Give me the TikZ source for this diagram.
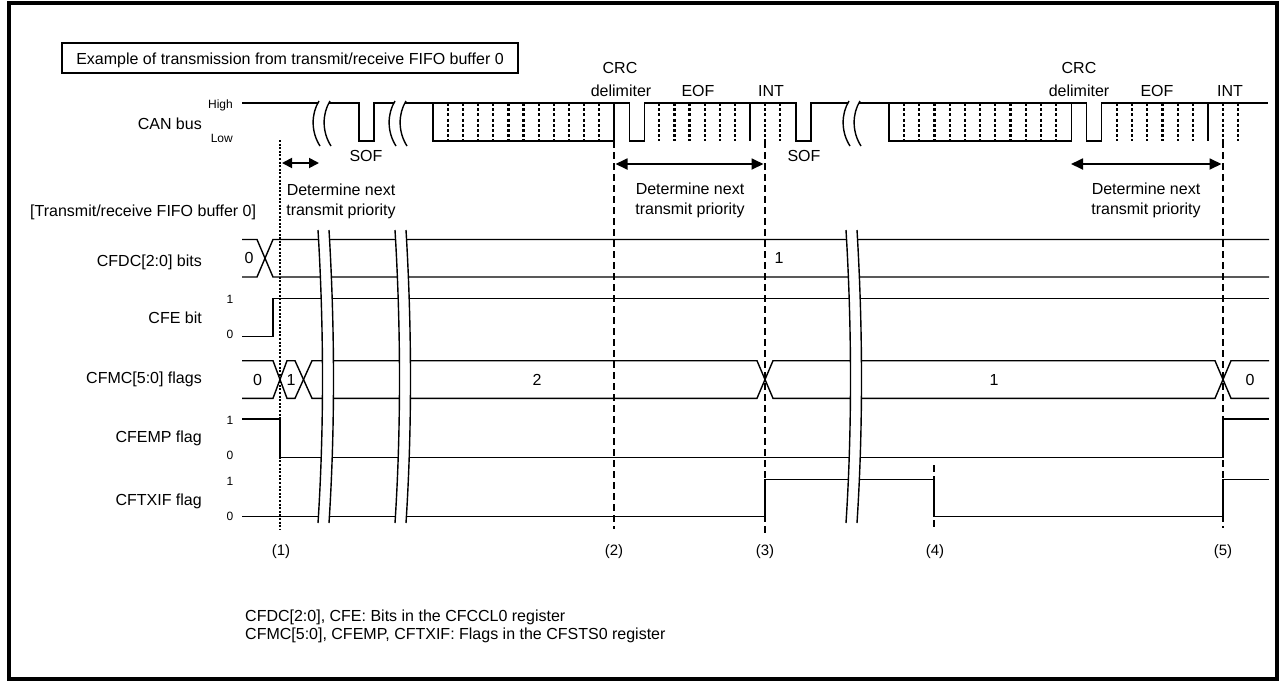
\documentclass[tikz,border=0pt]{standalone}
\usepackage{fontspec}
\setmainfont{Liberation Sans}
\usetikzlibrary{arrows.meta}
\newcommand\busbrk[1]{%
  \fill[white] ({#1+2},101) .. controls ({#1-6},114) and ({#1-6},132) .. ({#1+3},146) -- ({#1+14},146) .. controls ({#1+5},132) and ({#1+5},114) .. ({#1+13},101) -- cycle;
  \draw[brk] ({#1+2},101) .. controls ({#1-6},114) and ({#1-6},132) .. ({#1+3},146);
  \draw[brk] ({#1+13},101) .. controls ({#1+5},114) and ({#1+5},132) .. ({#1+14},146);
}
\newcommand\sigbrk[1]{%
  \fill[white] (#1,230) .. controls ({#1+6},330) and ({#1+6},430) .. (#1,523) -- ({#1+11},523) .. controls ({#1+17},430) and ({#1+17},330) .. ({#1+11},230) -- cycle;
  \draw[brk] (#1,230) .. controls ({#1+6},330) and ({#1+6},430) .. (#1,523);
  \draw[brk] ({#1+11},230) .. controls ({#1+17},330) and ({#1+17},430) .. ({#1+11},523);
}
\begin{document}
\begin{tikzpicture}[x=1pt,y=-1pt,
  sig/.style={line width=1.4pt, line join=miter},
  bitdot/.style={line width=2.2pt, dash pattern=on 3pt off 2.2pt},
  tline/.style={line width=2.6pt, dash pattern=on 7pt off 4pt},
  dotline/.style={line width=2.2pt, dash pattern=on 2pt off 1.6pt},
  brk/.style={line width=1.4pt},
  txtbig/.style={font=\fontsize{16}{19}\selectfont, inner sep=0pt, anchor=base},
  txtsmall/.style={font=\fontsize{12}{14}\selectfont, inner sep=0pt, anchor=base},
  txtmark/.style={font=\fontsize{15}{18}\selectfont, inner sep=0pt, anchor=base},
  dimarrow/.style={line width=1.8pt, {Triangle[length=12pt,width=11pt]}-{Triangle[length=12pt,width=11pt]}},
]
\useasboundingbox (0,0) rectangle (1280,681);
\fill[white] (0,0) rectangle (1280,681);
% outer frame
\draw[line width=3.5pt] (9,3) rectangle (1277,679);

% title box
\draw[line width=1.4pt] (62,43) rectangle (518,73);
\node[txtbig] (title) at (290,64) {Example of transmission from transmit/receive FIFO buffer 0};

% ---------- CAN bus ----------
\node[txtbig, anchor=base east] (canbus) at (202,129) {CAN bus};
\node[txtsmall, anchor=base east] (high) at (233,108) {High};
\node[txtsmall, anchor=base east] (low) at (233,142) {Low};

\draw[sig] (242,103) -- (359,103) -- (359,141) -- (374,141) -- (374,103)
  -- (629.2,103) -- (629.2,141) -- (644.3,141) -- (644.3,103)
  -- (796,103) -- (796,141) -- (811,141) -- (811,103)
  -- (1086.5,103) -- (1086.5,141) -- (1101.7,141) -- (1101.7,103) -- (1268,103);
\draw[sig] (433,103) -- (433,141) -- (614.1,141) -- (614.1,103);
\draw[sig] (889,103) -- (889,141) -- (1071.3,141) -- (1071.3,103);
\draw[sig] (749.9,103) -- (749.9,141);
\draw[sig] (1208,103) -- (1208,141);
\foreach \k in {1,...,11,15,16,17,18,19,20,22,23}{
  \draw[bitdot] ({433+\k*15.09},103) -- ++(0,38);
  \draw[bitdot] ({889+\k*15.19},103) -- ++(0,38);
}
\busbrk{317}
\busbrk{393}
\busbrk{847}

\node[txtbig] (sof1) at (366,161) {SOF};
\node[txtbig] (sof2) at (804,161) {SOF};
\node[txtbig] (crc1) at (620,73) {CRC};
\node[txtbig] (del1) at (621,96) {delimiter};
\node[txtbig] (eof1) at (698,96) {EOF};
\node[txtbig] (int1) at (771,96) {INT};
\node[txtbig] (crc2) at (1079,73) {CRC};
\node[txtbig] (del2) at (1079,96) {delimiter};
\node[txtbig] (eof2) at (1157,96) {EOF};
\node[txtbig] (int2) at (1230,96) {INT};

% ---------- timing lines ----------
\coordinate (t1) at (280,140);
\coordinate (t1b) at (280,530);
\coordinate (t2) at (614.1,141);
\coordinate (t2b) at (614.1,529);
\coordinate (t3) at (765,141);
\coordinate (t3b) at (765,533);
\coordinate (t4) at (934,465);
\coordinate (t4b) at (934,528);
\coordinate (t5) at (1223,141);
\coordinate (t5b) at (1223,528);

% arrows
\coordinate (a1l) at (282,163);
\coordinate (a1r) at (319,163);
\coordinate (a2l) at (615.5,164);
\coordinate (a2r) at (763.5,164);
\coordinate (a3l) at (1071,164);
\coordinate (a3r) at (1221.5,164);
\draw[line width=1.8pt, {Triangle[length=10pt,width=10pt]}-{Triangle[length=10pt,width=10pt]}] (a1l) -- (a1r);
\draw[dimarrow] (a2l) -- (a2r);
\draw[dimarrow] (a3l) -- (a3r);
\node[txtbig] (dn1a) at (341,195) {Determine next};
\node[txtbig] (dn1b) at (341,215) {transmit priority};
\node[txtbig] (dn2a) at (690,194) {Determine next};
\node[txtbig] (dn2b) at (690,214) {transmit priority};
\node[txtbig] (dn3a) at (1146,194) {Determine next};
\node[txtbig] (dn3b) at (1146,214) {transmit priority};

% ---------- register signals ----------
\node[txtbig, anchor=base west] (fifo) at (30,216) {[Transmit/receive FIFO buffer 0]};

% CFDC
\node[txtbig, anchor=base east] (cfdc) at (202,266) {CFDC[2:0] bits};
\draw[sig] (242,239.5) -- (257,239.5) -- (273,277) -- (1269,277);
\draw[sig] (242,277) -- (257,277) -- (273,239.5) -- (1269,239.5);
\node[txtbig] (cfdc0) at (249,263.5) {0};
\node[txtbig] (cfdc1) at (779,263.5) {1};

% CFE
\node[txtbig, anchor=base east] (cfe) at (202,323.3) {CFE bit};
\node[txtsmall] (cfe1) at (230,303.5) {1};
\node[txtsmall] (cfe0) at (230,338.5) {0};
\draw[sig] (242,336.7) -- (273,336.7) -- (273,298.3) -- (1269,298.3);

% CFMC
\node[txtbig, anchor=base east] (cfmc) at (202,383.3) {CFMC[5:0] flags};
\draw[sig] (242,360.7) -- (273,360.7) -- (287,398.3) -- (295,398.3) -- (312,360.7) -- (757,360.7)
  -- (773,398.3) -- (1215,398.3) -- (1231,360.7) -- (1269,360.7);
\draw[sig] (242,398.3) -- (273,398.3) -- (287,360.7) -- (295,360.7) -- (312,398.3) -- (757,398.3)
  -- (773,360.7) -- (1215,360.7) -- (1231,398.3) -- (1269,398.3);
\node[txtbig] (cfmc0) at (257.5,385.7) {0};
\node[txtbig] (cfmc1) at (291,385.7) {1};
\node[txtbig] (cfmc2) at (537,385.7) {2};
\node[txtbig] (cfmc1b) at (994,385.7) {1};
\node[txtbig] (cfmc0b) at (1250,385.7) {0};

% CFEMP
\node[txtbig, anchor=base east] (cfemp) at (202,442.3) {CFEMP flag};
\node[txtsmall] (cfemp1) at (230,424) {1};
\node[txtsmall] (cfemp0) at (230,459) {0};
\draw[sig] (242,419) -- (280,419) -- (280,457.7) -- (1223,457.7) -- (1223,419) -- (1269,419);

% CFTXIF
\node[txtbig, anchor=base east] (cftxif) at (202,505) {CFTXIF flag};
\node[txtsmall] (cftxif1) at (230,485) {1};
\node[txtsmall] (cftxif0) at (230,520) {0};
\draw[sig] (242,516.7) -- (765,516.7) -- (765,479.3) -- (934,479.3) -- (934,516.7)
  -- (1223,516.7) -- (1223,479.3) -- (1269,479.3);

\sigbrk{318}
\sigbrk{395}
\sigbrk{846}

% timing lines on top
\draw[dotline] (t1) -- (t1b);
\draw[tline] (t2) -- (t2b);
\draw[tline] (t3) -- (t3b);
\draw[tline] (t4) -- (t4b);
\draw[tline] (t5) -- (t5b);

\node[txtmark] (n1) at (281,555) {(1)};
\node[txtmark] (n2) at (614,555) {(2)};
\node[txtmark] (n3) at (765,555) {(3)};
\node[txtmark] (n4) at (935,555) {(4)};
\node[txtmark] (n5) at (1223,555) {(5)};

% notes
\node[txtbig, anchor=base west] (note1) at (245,621) {CFDC[2:0], CFE: Bits in the CFCCL0 register};
\node[txtbig, anchor=base west] (note2) at (245,639.3) {CFMC[5:0], CFEMP, CFTXIF: Flags in the CFSTS0 register};
\end{tikzpicture}
\end{document}
